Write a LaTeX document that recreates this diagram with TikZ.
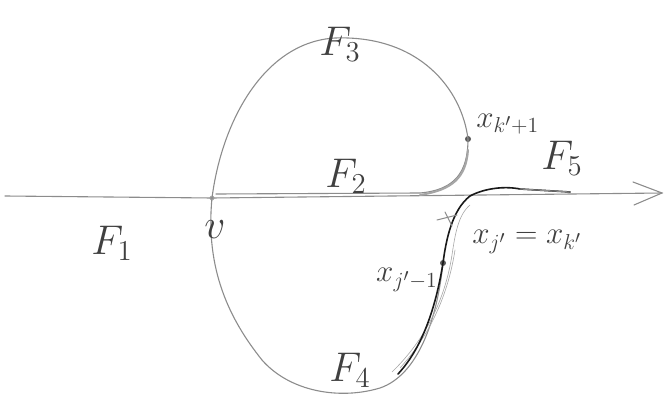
\documentclass[tikz,border=0pt]{standalone}
\usetikzlibrary{calc}
\begin{document}
\begin{tikzpicture}[x=1pt,y=-1pt,
  pencil/.style={draw=black!45,line width=1.1pt,line cap=round},
  pencilthin/.style={draw=black!35,line width=0.6pt,line cap=round},
  ink/.style={draw=black!90,line width=1.6pt,line cap=round},
  lab/.style={text=black!75,inner sep=0pt},
  small/.style={font=\LARGE,scale=1.8},
  big/.style={font=\huge,scale=2.0},
  dot/.style={circle,fill=black!65,inner sep=0pt,minimum size=6pt}]
\useasboundingbox (0,0) rectangle (664,401);
% key points
\coordinate (axL) at (5,196);
\coordinate (axR) at (662,193);
\node[dot,fill=black!30,minimum size=5pt] (v) at (212,198) {};
\node[dot] (kp) at (468,139) {};
\node[dot] (jm) at (443,263) {};
\coordinate (j) at (450,222);
% axis
\draw[pencil] (axL) -- (v.center) -- (axR);
\draw[pencil] (633,182) -- (axR) -- (634,205);
% double line F2 and upper loop
\draw[pencil] (v.center) .. controls (222,120) and (265,42) .. (335,38)
  .. controls (420,35) and (462,90) .. (kp.center)
  .. controls (468,172) and (455,190) .. (420,193) -- (216,194);
\draw[pencil,line width=2pt,draw=black!35] (468,150) .. controls (466,178) and (452,190) .. (420,195);
% lower loop
\draw[pencil] (v.center) .. controls (205,270) and (230,320) .. (262,360)
  .. controls (290,392) and (340,400) .. (380,388)
  .. controls (418,375) and (437,320) .. (jm.center);
\draw[pencilthin] (392,372) .. controls (425,340) and (445,300) .. (452,255)
  .. controls (455,235) and (458,215) .. (470,205);
\draw[pencilthin] (400,368) .. controls (430,335) and (448,295) .. (455,250);
% black path
\draw[ink] (398,374) .. controls (425,345) and (437,300) .. (jm.center)
  .. controls (446,240) and (452,210) .. (470,196)
  .. controls (485,188) and (505,186) .. (520,189) -- (570,192);
\draw[pencil] (520,189) -- (570,192);
% cross mark at x_j'
\draw[pencil,line width=1pt] (437,220) -- (457,215);
\draw[pencil,line width=1pt] (445,212) -- (452,226);
% labels
\node[lab,big] (F3) at (340,44) {$F_3$};
\node[lab,big] (F2) at (346,176) {$F_2$};
\node[lab,big] (F5) at (562,158) {$F_5$};
\node[lab,big] (F1) at (112,243) {$F_1$};
\node[lab,big] (vl) at (215,230) {$v$};
\node[lab,big] (F4) at (350,370) {$F_4$};
\node[lab,small,anchor=west] (lkp) at (476,124) {$x_{k'+1}$};
\node[lab,small,anchor=west] (lj) at (472,242) {$x_{j'}=x_{k'}$};
\node[lab,small,anchor=east] (ljm) at (438,280) {$x_{j'-1}$};
\end{tikzpicture}
\end{document}
